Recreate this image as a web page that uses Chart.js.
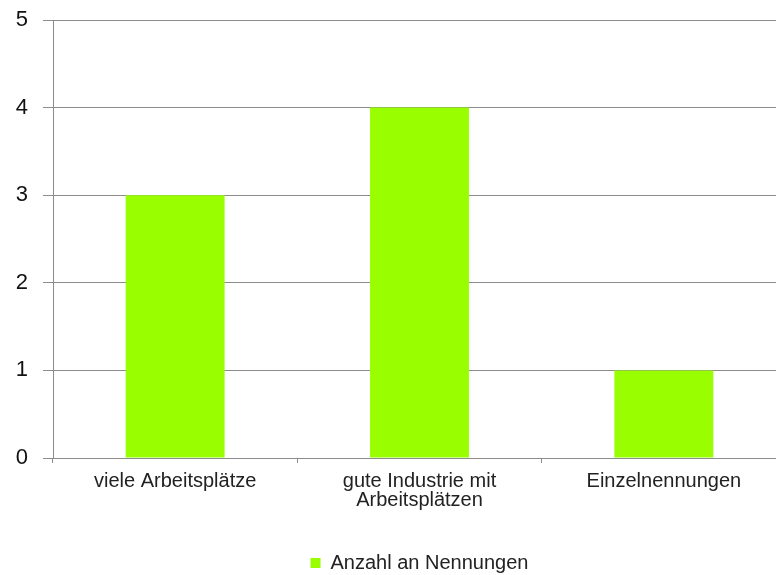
<!DOCTYPE html>
<html>
<head>
<meta charset="utf-8">
<script src="https://cdn.jsdelivr.net/npm/chart.js@4/dist/chart.umd.min.js"></script>
<style>
  html, body { margin: 0; padding: 0; background: #fff; overflow: hidden; }
  /* the plot runs a little past the right edge of the picture */
  #wrap { width: 786px; height: 575px; }
</style>
</head>
<body>
<div id="wrap"><canvas id="chart"></canvas></div>
<script>
const categories = ['viele Arbeitsplätze', ['gute Industrie mit', 'Arbeitsplätzen'], 'Einzelnennungen'];
const counts = [3, 4, 1];
const seriesName = 'Anzahl an Nennungen';
const yTicks = [0, 1, 2, 3, 4, 5];

const ctx = document.getElementById('chart').getContext('2d');
new Chart(ctx, {
  type: 'bar',
  data: {
    labels: categories,
    datasets: [{
      label: seriesName,
      data: counts,
      backgroundColor: '#99ff00',
      borderWidth: 0,
      barPercentage: 1,
      categoryPercentage: 0.405
    }]
  },
  options: {
    responsive: true,
    maintainAspectRatio: false,
    animation: false,
    layout: { padding: { top: 20, right: 0, bottom: -8, left: 0 } },
    plugins: {
      tooltip: { enabled: false },
      legend: {
        position: 'bottom',
        fullSize: false,
        labels: {
          font: { family: 'Liberation Sans', size: 20, lineHeight: 1 },
          color: '#222',
          boxWidth: 10,
          boxHeight: 10,
          padding: 3
        }
      }
    },
    scales: {
      x: {
        grid: { offset: true, drawOnChartArea: false, tickLength: 5, color: '#8c8c8c' },
        border: { color: '#8c8c8c' },
        ticks: {
          font: { family: 'Liberation Sans', size: 20, lineHeight: 0.95 },
          color: '#222',
          padding: 9,
          maxRotation: 0
        },
        afterFit: scale => { scale.height = 92; }
      },
      y: {
        min: 0,
        max: 5,
        afterBuildTicks: scale => { scale.ticks = yTicks.map(v => ({ value: v })); },
        grid: { color: '#8c8c8c', tickLength: 10 },
        border: { color: '#8c8c8c' },
        ticks: {
          font: { family: 'Liberation Sans', size: 22 },
          color: '#111',
          padding: 15
        },
        afterFit: scale => {
          scale.width = 53;
          scale.paddingTop = 0;
          scale.paddingBottom = 0;
        }
      }
    }
  }
});
</script>
</body>
</html>
